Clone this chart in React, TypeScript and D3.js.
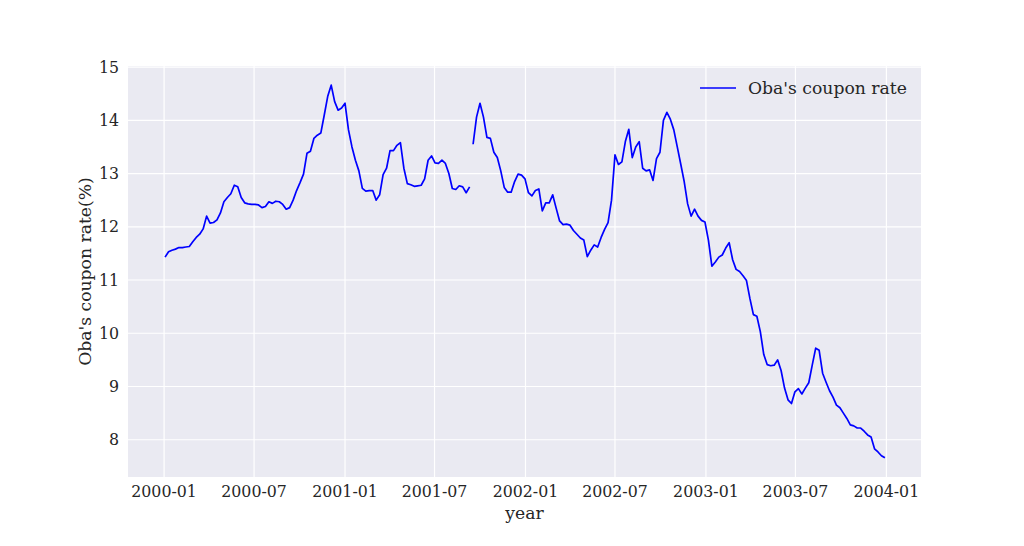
import React from "react";
import * as d3 from "d3";

// Weekly readings (Mondays) of Oba's coupon rate (%)
const startBeforeGap = "2000-01-03";
const ratesBeforeGap = [
  11.43, 11.53, 11.56, 11.58, 11.61, 11.61, 11.62, 11.63, 11.72, 11.8,
  11.86, 11.96, 12.2, 12.07, 12.08, 12.13, 12.26, 12.47, 12.55, 12.62,
  12.78, 12.75, 12.55, 12.45, 12.43, 12.42, 12.42, 12.41, 12.36, 12.38,
  12.47, 12.44, 12.48, 12.47, 12.42, 12.33, 12.36, 12.5, 12.68, 12.83,
  12.99, 13.38, 13.42, 13.66, 13.72, 13.76, 14.1, 14.45, 14.66, 14.35,
  14.19, 14.23, 14.32, 13.82, 13.5, 13.25, 13.05, 12.72, 12.67, 12.68,
  12.68, 12.5, 12.6, 12.98, 13.1, 13.43, 13.43, 13.53, 13.58, 13.1,
  12.81, 12.79, 12.76, 12.77, 12.78, 12.9, 13.25, 13.33, 13.2, 13.19,
  13.25, 13.19, 13.0, 12.72, 12.7, 12.77, 12.75, 12.64, 12.75,
];
const startAfterGap = "2001-09-17";
const ratesAfterGap = [
  13.55, 14.06, 14.32, 14.06, 13.68, 13.66, 13.4, 13.3, 13.05, 12.74,
  12.65, 12.65, 12.85, 12.99, 12.97, 12.9, 12.64, 12.58, 12.68, 12.71,
  12.3, 12.45, 12.45, 12.6, 12.35, 12.11, 12.04, 12.05, 12.03, 11.93,
  11.86, 11.79, 11.75, 11.44, 11.56, 11.66, 11.62, 11.8, 11.95, 12.08,
  12.5, 13.35, 13.17, 13.22, 13.6, 13.83, 13.3, 13.5, 13.6, 13.1,
  13.05, 13.07, 12.87, 13.28, 13.4, 14.0, 14.15, 14.02, 13.82, 13.5,
  13.18, 12.85, 12.43, 12.2, 12.33, 12.2, 12.12, 12.09, 11.75, 11.26,
  11.34, 11.43, 11.47, 11.6, 11.7, 11.38, 11.2, 11.16, 11.08, 10.99,
  10.65, 10.35, 10.32, 10.03, 9.6, 9.41, 9.39, 9.4, 9.5, 9.3,
  8.97, 8.75, 8.68, 8.9, 8.96, 8.86, 8.97, 9.07, 9.4, 9.72,
  9.68, 9.25, 9.08, 8.92, 8.8, 8.65, 8.6, 8.5, 8.4, 8.28,
  8.26, 8.22, 8.22, 8.16, 8.09, 8.05, 7.83, 7.77, 7.7, 7.66,
];
const yTicks = [8, 9, 10, 11, 12, 13, 14, 15];
const xTickLabels = ["2000-01", "2000-07", "2001-01", "2001-07", "2002-01", "2002-07", "2003-01", "2003-07", "2004-01"];
const seriesName = "Oba's coupon rate";
const yLabel = "Oba's coupon rate(%)";
const xLabel = "year";

const W = 1024, H = 546;
const L = 128, R = 921, T = 66, B = 477;
const FONT = "'DejaVu Serif', serif";
const TXT = "#262626";

const parse = d3.timeParse("%Y-%m-%d");
const parseMonth = d3.timeParse("%Y-%m");

function toSeries(start: string, vals: number[]) {
  const s = parse(start)!;
  return vals.map((v, i) => ({ date: d3.timeMonday.offset(s, i), value: v }));
}

export default function App() {
  const segA = toSeries(startBeforeGap, ratesBeforeGap);
  const segB = toSeries(startAfterGap, ratesAfterGap);

  const x = d3.scaleTime()
    .domain([parse("1999-10-20")!, parse("2004-03-11")!])
    .range([L, R]);
  const y = d3.scaleLinear().domain([7.3, 15.02]).range([B, T]);

  const line = d3.line<{ date: Date; value: number }>()
    .x((d) => x(d.date))
    .y((d) => y(d.value));

  const xTicks = xTickLabels.map((t) => ({ label: t, date: parseMonth(t)! }));

  return (
    <div style={{ position: "absolute", left: 0, top: 0 }}>
      <svg width={W} height={H} style={{ display: "block", background: "#fff" }}>
        <rect x={L} y={T} width={R - L} height={B - T} fill="#EAEAF2" />
        {xTicks.map((t) => (
          <line key={t.label} x1={x(t.date)} x2={x(t.date)} y1={T} y2={B} stroke="#fff" strokeWidth={1.2} />
        ))}
        {yTicks.map((t) => (
          <line key={t} x1={L} x2={R} y1={y(t)} y2={y(t)} stroke="#fff" strokeWidth={1.2} />
        ))}
        <path d={line(segA) || ""} fill="none" stroke="#0000ff" strokeWidth={1.7} strokeLinejoin="round" />
        <path d={line(segB) || ""} fill="none" stroke="#0000ff" strokeWidth={1.7} strokeLinejoin="round" />
        {xTicks.map((t) => (
          <text key={t.label} x={x(t.date)} y={497} textAnchor="middle" fontFamily={FONT} fontSize={15.8} fill={TXT}>
            {t.label}
          </text>
        ))}
        {yTicks.map((t) => (
          <text key={t} x={119} y={y(t)} dy="0.36em" textAnchor="end" fontFamily={FONT} fontSize={15.8} fill={TXT}>
            {t}
          </text>
        ))}
        <text x={(L + R) / 2} y={519} textAnchor="middle" fontFamily={FONT} fontSize={17.2} fill={TXT}>
          {xLabel}
        </text>
        <text transform={`translate(91, ${(T + B) / 2}) rotate(-90)`} textAnchor="middle" fontFamily={FONT} fontSize={17.2} fill={TXT}>
          {yLabel}
        </text>
        <line x1={700} x2={736} y1={88} y2={88} stroke="#0000ff" strokeWidth={1.7} />
        <text x={748} y={88} dy="0.36em" fontFamily={FONT} fontSize={17.2} fill={TXT}>
          {seriesName}
        </text>
      </svg>
    </div>
  );
}
